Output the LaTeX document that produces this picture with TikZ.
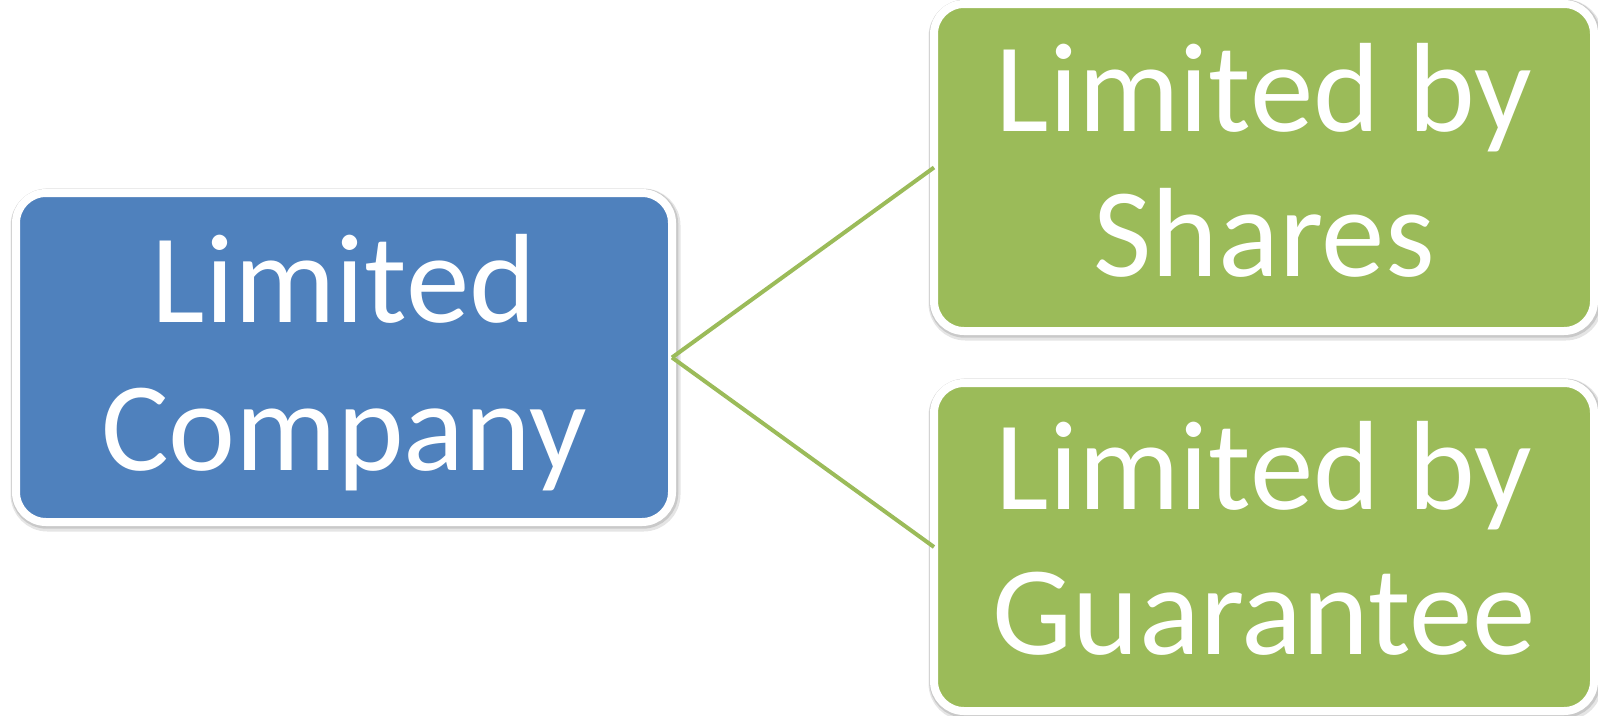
\documentclass[tikz,border=0pt]{standalone}
\usepackage{fontspec}
\setmainfont{Carlito}
\definecolor{boxblue}{HTML}{4F81BD}
\definecolor{boxgreen}{HTML}{9BBB59}
\tikzset{
  card/.style={rectangle, rounded corners=30pt, draw=white, line width=8pt,
    outer sep=0pt, inner sep=0pt,
    preaction={draw=black, draw opacity=0.10, line width=14pt, transform canvas={xshift=1.5pt, yshift=-2.5pt}},
    preaction={draw=black, draw opacity=0.12, line width=11pt, transform canvas={xshift=0.8pt, yshift=-1.2pt}}},
  bluecard/.style={card, fill=boxblue},
  greencard/.style={card, fill=boxgreen},
  cardtext/.style={text=white, align=center, inner sep=0pt,
    font=\fontsize{127}{145}\selectfont},
  link/.style={draw=boxgreen, line width=4pt}
}
\begin{document}
\begin{tikzpicture}[x=1pt,y=-1pt]
\useasboundingbox (0,0) rectangle (1598,715);
\node[bluecard, minimum width=656pt, minimum height=329pt] (lc) at (344,357.5) {};
\node[greencard, minimum width=660pt, minimum height=327pt] (ls) at (1264,167.5) {};
\node[greencard, minimum width=660pt, minimum height=328pt] (lg) at (1264,547) {};
\node[cardtext, font=\fontsize{127}{148}\selectfont, yshift=-5pt] (lct) at (lc.center) {Limited\\Company};
\node[cardtext, yshift=7pt] (lst) at (ls.center) {Limited by\\Shares};
\node[cardtext, yshift=9pt] (lgt) at (lg.center) {Limited by\\Guarantee};
\draw[link] (lc.east) -- (ls.west);
\draw[link] (lc.east) -- (lg.west);
\end{tikzpicture}
\end{document}
